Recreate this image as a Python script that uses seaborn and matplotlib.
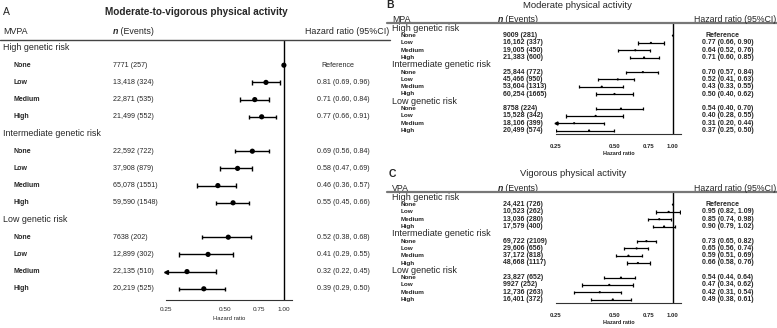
import numpy as np
import pandas as pd
import matplotlib
matplotlib.use("Agg")
import matplotlib.pyplot as plt
import seaborn as sns
from matplotlib.lines import Line2D
from matplotlib.transforms import blended_transform_factory

groups = ["High genetic risk", "Intermediate genetic risk", "Low genetic risk"]
levels = ["None", "Low", "Medium", "High"]

# A: moderate-to-vigorous physical activity
mvpa_n = [7771, 13418, 22871, 21499, 22592, 37908, 65078, 59590, 7638, 12899, 22135, 20219]
mvpa_events = [257, 324, 535, 552, 722, 879, 1551, 1548, 202, 302, 510, 525]
mvpa_hr = [1.00, 0.81, 0.71, 0.77, 0.69, 0.58, 0.46, 0.55, 0.52, 0.41, 0.32, 0.39]
mvpa_lo = [np.nan, 0.69, 0.60, 0.66, 0.56, 0.47, 0.36, 0.45, 0.38, 0.29, 0.22, 0.29]
mvpa_hi = [np.nan, 0.96, 0.84, 0.91, 0.84, 0.69, 0.57, 0.66, 0.68, 0.55, 0.45, 0.50]

# B: moderate physical activity
mpa_n = [9009, 16162, 19005, 21383, 25844, 45466, 53604, 60254, 8758, 15528, 18106, 20499]
mpa_events = [281, 337, 450, 600, 772, 950, 1313, 1665, 224, 342, 399, 574]
mpa_hr = [1.00, 0.77, 0.64, 0.71, 0.70, 0.52, 0.43, 0.50, 0.54, 0.40, 0.31, 0.37]
mpa_lo = [np.nan, 0.66, 0.52, 0.60, 0.57, 0.41, 0.33, 0.40, 0.40, 0.28, 0.20, 0.25]
mpa_hi = [np.nan, 0.90, 0.76, 0.85, 0.84, 0.63, 0.55, 0.62, 0.70, 0.55, 0.44, 0.50]

# C: vigorous physical activity
vpa_n = [24421, 10523, 13036, 17579, 69722, 29606, 37172, 48668, 23827, 9927, 12736, 16401]
vpa_events = [726, 262, 280, 400, 2109, 656, 818, 1117, 652, 252, 263, 372]
vpa_hr = [1.00, 0.95, 0.85, 0.90, 0.73, 0.65, 0.59, 0.66, 0.54, 0.47, 0.42, 0.49]
vpa_lo = [np.nan, 0.82, 0.74, 0.79, 0.65, 0.56, 0.51, 0.58, 0.44, 0.34, 0.31, 0.38]
vpa_hi = [np.nan, 1.09, 0.98, 1.02, 0.82, 0.74, 0.69, 0.76, 0.64, 0.62, 0.54, 0.61]

xticks = [0.25, 0.50, 0.75, 1.00]
xtick_labels = ["0.25", "0.50", "0.75", "1.00"]

W, H = 777, 328

sns.set_style("white")
plt.rcParams['font.family'] = ['Liberation Sans', 'DejaVu Sans']

fig = plt.figure(figsize=(W / 100, H / 100), dpi=100)


def fx(x):
    return x / W


def fy(y):
    return 1 - y / H


def fmt_n(n, e):
    s = f"{n:,}" if n >= 10000 else str(n)
    return f"{s} ({e})"


def draw_panel(p, n, events, hr, lo, hi):
    rows = []
    for g, grp in enumerate(groups):
        for j, lev in enumerate(levels):
            rows.append(dict(group=grp, level=lev, row=g * 5 + j + 1))
    df = pd.DataFrame(rows)
    df['n'] = [fmt_n(a, b) for a, b in zip(n, events)]
    df['hr'] = hr
    df['lo'] = lo
    df['hi'] = hi

    step = p['step']
    y_bottom = (p['base_y'] - p['row0']) / step
    y_top = (p['rule_y'] - p['row0']) / step
    ax = fig.add_axes([fx(p['ax_l']), fy(p['base_y']),
                       fx(p['ax_r'] - p['ax_l']), (p['base_y'] - p['rule_y']) / H])
    ax.set_xscale('log')
    ax.patch.set_alpha(0)
    for s in ['left', 'right', 'top']:
        ax.spines[s].set_visible(False)
    ax.spines['bottom'].set_color('#333333')
    ax.spines['bottom'].set_linewidth(0.8)
    ax.axvline(1.0, color='black', lw=1.0, zorder=1)

    cap = p['cap'] / step
    for _, r in df.dropna(subset=['lo']).iterrows():
        left = max(r['lo'], 0.25)
        ax.hlines(r['row'], left, r['hi'], color='black', lw=p['lw'], zorder=2)
        ax.vlines(r['hi'], r['row'] - cap, r['row'] + cap, color='black', lw=p['lw'], zorder=2)
        if r['lo'] >= 0.25:
            ax.vlines(r['lo'], r['row'] - cap, r['row'] + cap, color='black', lw=p['lw'], zorder=2)
        else:
            ax.plot(0.25, r['row'], marker='<', ms=p['arrow'], color='black',
                    clip_on=False, zorder=3)
    sns.scatterplot(data=df, x='hr', y='row', ax=ax, color='black', s=p['dot'],
                    edgecolor='none', zorder=4, legend=False, clip_on=False)

    ax.set_xlim(0.25, 1.1)
    ax.set_ylim(y_bottom, y_top)
    ax.set_yticks([])
    ax.set_ylabel("")
    ax.set_xticks(xticks)
    ax.set_xticklabels(xtick_labels)
    ax.minorticks_off()
    ax.tick_params(axis='x', direction='out', length=3, width=0.7, color='#333333',
                   pad=p['tick_pad'], labelsize=p['fs_tick'])
    for t in ax.get_xticklabels():
        t.set_fontweight(p['w_small'])
    ax.set_xlabel("Hazard ratio", fontsize=p['fs_xlab'], fontweight=p['w_small'],
                  labelpad=p['xlab_pad'])

    tr = blended_transform_factory(fig.transFigure, ax.transData)
    for g, grp in enumerate(groups):
        ax.text(fx(p['group_x']), g * 5, grp, transform=tr, ha='left', va='center',
                fontsize=p['fs_group'])
    for _, r in df.iterrows():
        ax.text(fx(p['item_x']), r['row'], r['level'], transform=tr, ha='left', va='center',
                fontsize=p['fs_item'], fontweight='bold')
        ax.text(fx(p['n_x']), r['row'], r['n'], transform=tr, ha='left', va='center',
                fontsize=p['fs_num'], fontweight=p['w_small'])
        if np.isnan(r['lo']):
            ax.text(fx(p['ref_x']), r['row'], "Reference", transform=tr, ha='center',
                    va='center', fontsize=p['fs_num'], fontweight=p['w_small'])
        else:
            ax.text(fx(p['hr_x']), r['row'],
                    f"{r['hr']:.2f} ({r['lo']:.2f}, {r['hi']:.2f})", transform=tr,
                    ha='left', va='center', fontsize=p['fs_num'], fontweight=p['w_small'])

    # titles and header row
    fig.text(fx(p['letter_x']), fy(p['title_y']), p['letter'], ha='left', va='center',
             fontsize=p['fs_letter'], fontweight=p['w_letter'])
    fig.text(fx(p['title_x']), fy(p['title_y']), p['title'], ha='center', va='center',
             fontsize=p['fs_title'], fontweight=p['w_title'])
    fig.text(fx(p['group_x']), fy(p['header_y']), p['abbr'], ha='left', va='center',
             fontsize=p['fs_head'])
    nt = fig.text(fx(p['nh_x']), fy(p['header_y']), "n", ha='left', va='center',
                  fontsize=p['fs_head'], fontweight='bold', style='italic')
    ax.annotate(" (Events)", xy=(1, 0.5), xycoords=nt, ha='left', va='center',
                fontsize=p['fs_head'], annotation_clip=False)
    fig.text(fx(p['hrh_x']), fy(p['header_y']), "Hazard ratio (95%CI)", ha='right',
             va='center', fontsize=p['fs_head'])
    fig.add_artist(Line2D([fx(p['rule_x0']), fx(p['rule_x1'])],
                          [fy(p['rule_y']), fy(p['rule_y'])],
                          color=p['rule_c'], lw=p['rule_lw']))


panel_a = dict(letter="A", title="Moderate-to-vigorous physical activity", abbr="MVPA",
               letter_x=3, title_x=196, title_y=12, header_y=31.5, rule_y=39.5,
               rule_x0=0, rule_x1=390, rule_c='#444444', rule_lw=1.0,
               row0=48, step=17.2, base_y=299.5, ax_l=166, ax_r=292,
               group_x=3, item_x=13, n_x=113, nh_x=113, hr_x=317, ref_x=338, hrh_x=389,
               fs_letter=7.5, w_letter='normal', fs_title=7.2, w_title='bold',
               fs_head=6.4, fs_group=6.4, fs_item=5.0, fs_num=5.1, w_small='normal',
               fs_tick=4.6, fs_xlab=4.2, tick_pad=2.5, xlab_pad=3.0,
               lw=1.0, cap=2.2, dot=14, arrow=2.8)

panel_b = dict(letter="B", title="Moderate physical activity", abbr="MPA",
               letter_x=386, title_x=577, title_y=5, header_y=19.8, rule_y=23.3,
               rule_x0=387, rule_x1=777, rule_c='#777777', rule_lw=1.6,
               row0=28.3, step=7.3, base_y=133.5, ax_l=556, ax_r=681,
               group_x=392, item_x=401, n_x=503, nh_x=498, hr_x=702, ref_x=723, hrh_x=776,
               fs_letter=7.5, w_letter='bold', fs_title=6.8, w_title='normal',
               fs_head=6.3, fs_group=6.5, fs_item=4.6, fs_num=5.0, w_small='bold',
               fs_tick=4.3, fs_xlab=4.0, tick_pad=4.5, xlab_pad=1.5,
               lw=0.9, cap=1.6, dot=2.5, arrow=2.2)

panel_c = dict(panel_b, letter="C", title="Vigorous physical activity", abbr="VPA",
               letter_x=389, title_x=573, title_y=174, header_y=188.5, rule_y=192.3,
               row0=197.3, base_y=302.5)

draw_panel(panel_a, mvpa_n, mvpa_events, mvpa_hr, mvpa_lo, mvpa_hi)
draw_panel(panel_b, mpa_n, mpa_events, mpa_hr, mpa_lo, mpa_hi)
draw_panel(panel_c, vpa_n, vpa_events, vpa_hr, vpa_lo, vpa_hi)

fig.savefig("out.png", dpi=100)
